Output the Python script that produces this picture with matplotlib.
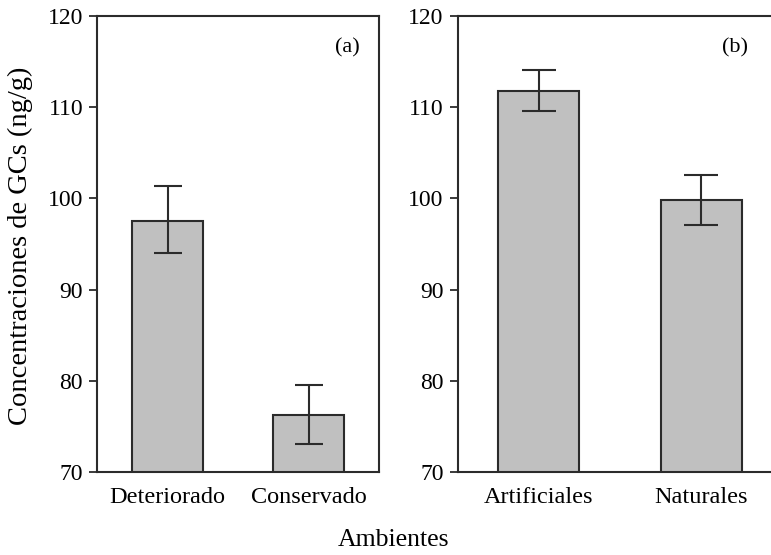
import matplotlib
matplotlib.use("Agg")
import matplotlib.pyplot as plt

plt.rcParams["font.family"] = ["Liberation Serif", "DejaVu Serif"]

# panel (a)
cat_a = ["Deteriorado", "Conservado"]
val_a = [97.5, 76.2]
err_a_low = [3.5, 3.1]
err_a_high = [3.9, 3.3]

# panel (b)
cat_b = ["Artificiales", "Naturales"]
val_b = [111.8, 99.8]
err_b_low = [2.2, 2.7]
err_b_high = [2.3, 2.8]

W, H = 771, 555
fig = plt.figure(figsize=(W / 100, H / 100), dpi=100)

bar_col = "#c0c0c0"
edge_col = "#2b2b2b"
fs = 17


def panel(ax, cats, vals, lo, hi, tag, tag_x, capsize):
    ax.bar(range(len(cats)), vals, width=0.5, color=bar_col,
           edgecolor=edge_col, linewidth=1.5, zorder=2)
    ax.errorbar(range(len(cats)), vals, yerr=[lo, hi], fmt="none",
                ecolor=edge_col, elinewidth=1.5, capsize=capsize,
                capthick=1.5, zorder=3)
    ax.set_xlim(-0.5, 1.5)
    ax.set_ylim(70, 120)
    ax.set_yticks([70, 80, 90, 100, 110, 120])
    ax.set_xticks(range(len(cats)))
    ax.set_xticklabels(cats, fontsize=17.5)
    ax.tick_params(axis="y", direction="out", length=6, width=1.3,
                   labelsize=fs, color=edge_col, pad=4)
    ax.tick_params(axis="x", length=0, pad=11)
    for s in ax.spines.values():
        s.set_linewidth(1.5)
        s.set_color(edge_col)
    ax.text(tag_x, 0.93, tag, transform=ax.transAxes, fontsize=fs - 1,
            ha="center", va="center")


bot = (H - 472) / H
hgt = (472 - 16) / H

ax1 = fig.add_axes([97 / W, bot, 282 / W, hgt])
panel(ax1, cat_a, val_a, err_a_low, err_a_high, "(a)", (347 - 97) / 282, 10)

# right panel runs past the figure edge, as in the original
ax2 = fig.add_axes([457.5 / W, bot, 325 / W, hgt])
panel(ax2, cat_b, val_b, err_b_low, err_b_high, "(b)", (735 - 457.5) / 325, 12)

fig.text(20 / W, (H - 246) / H, "Concentraciones de GCs (ng/g)",
         rotation=90, ha="center", va="center", fontsize=20.5)
fig.text(394 / W, (H - 540) / H, "Ambientes", ha="center", va="center",
         fontsize=18.5)

fig.savefig("out.png", dpi=100)
